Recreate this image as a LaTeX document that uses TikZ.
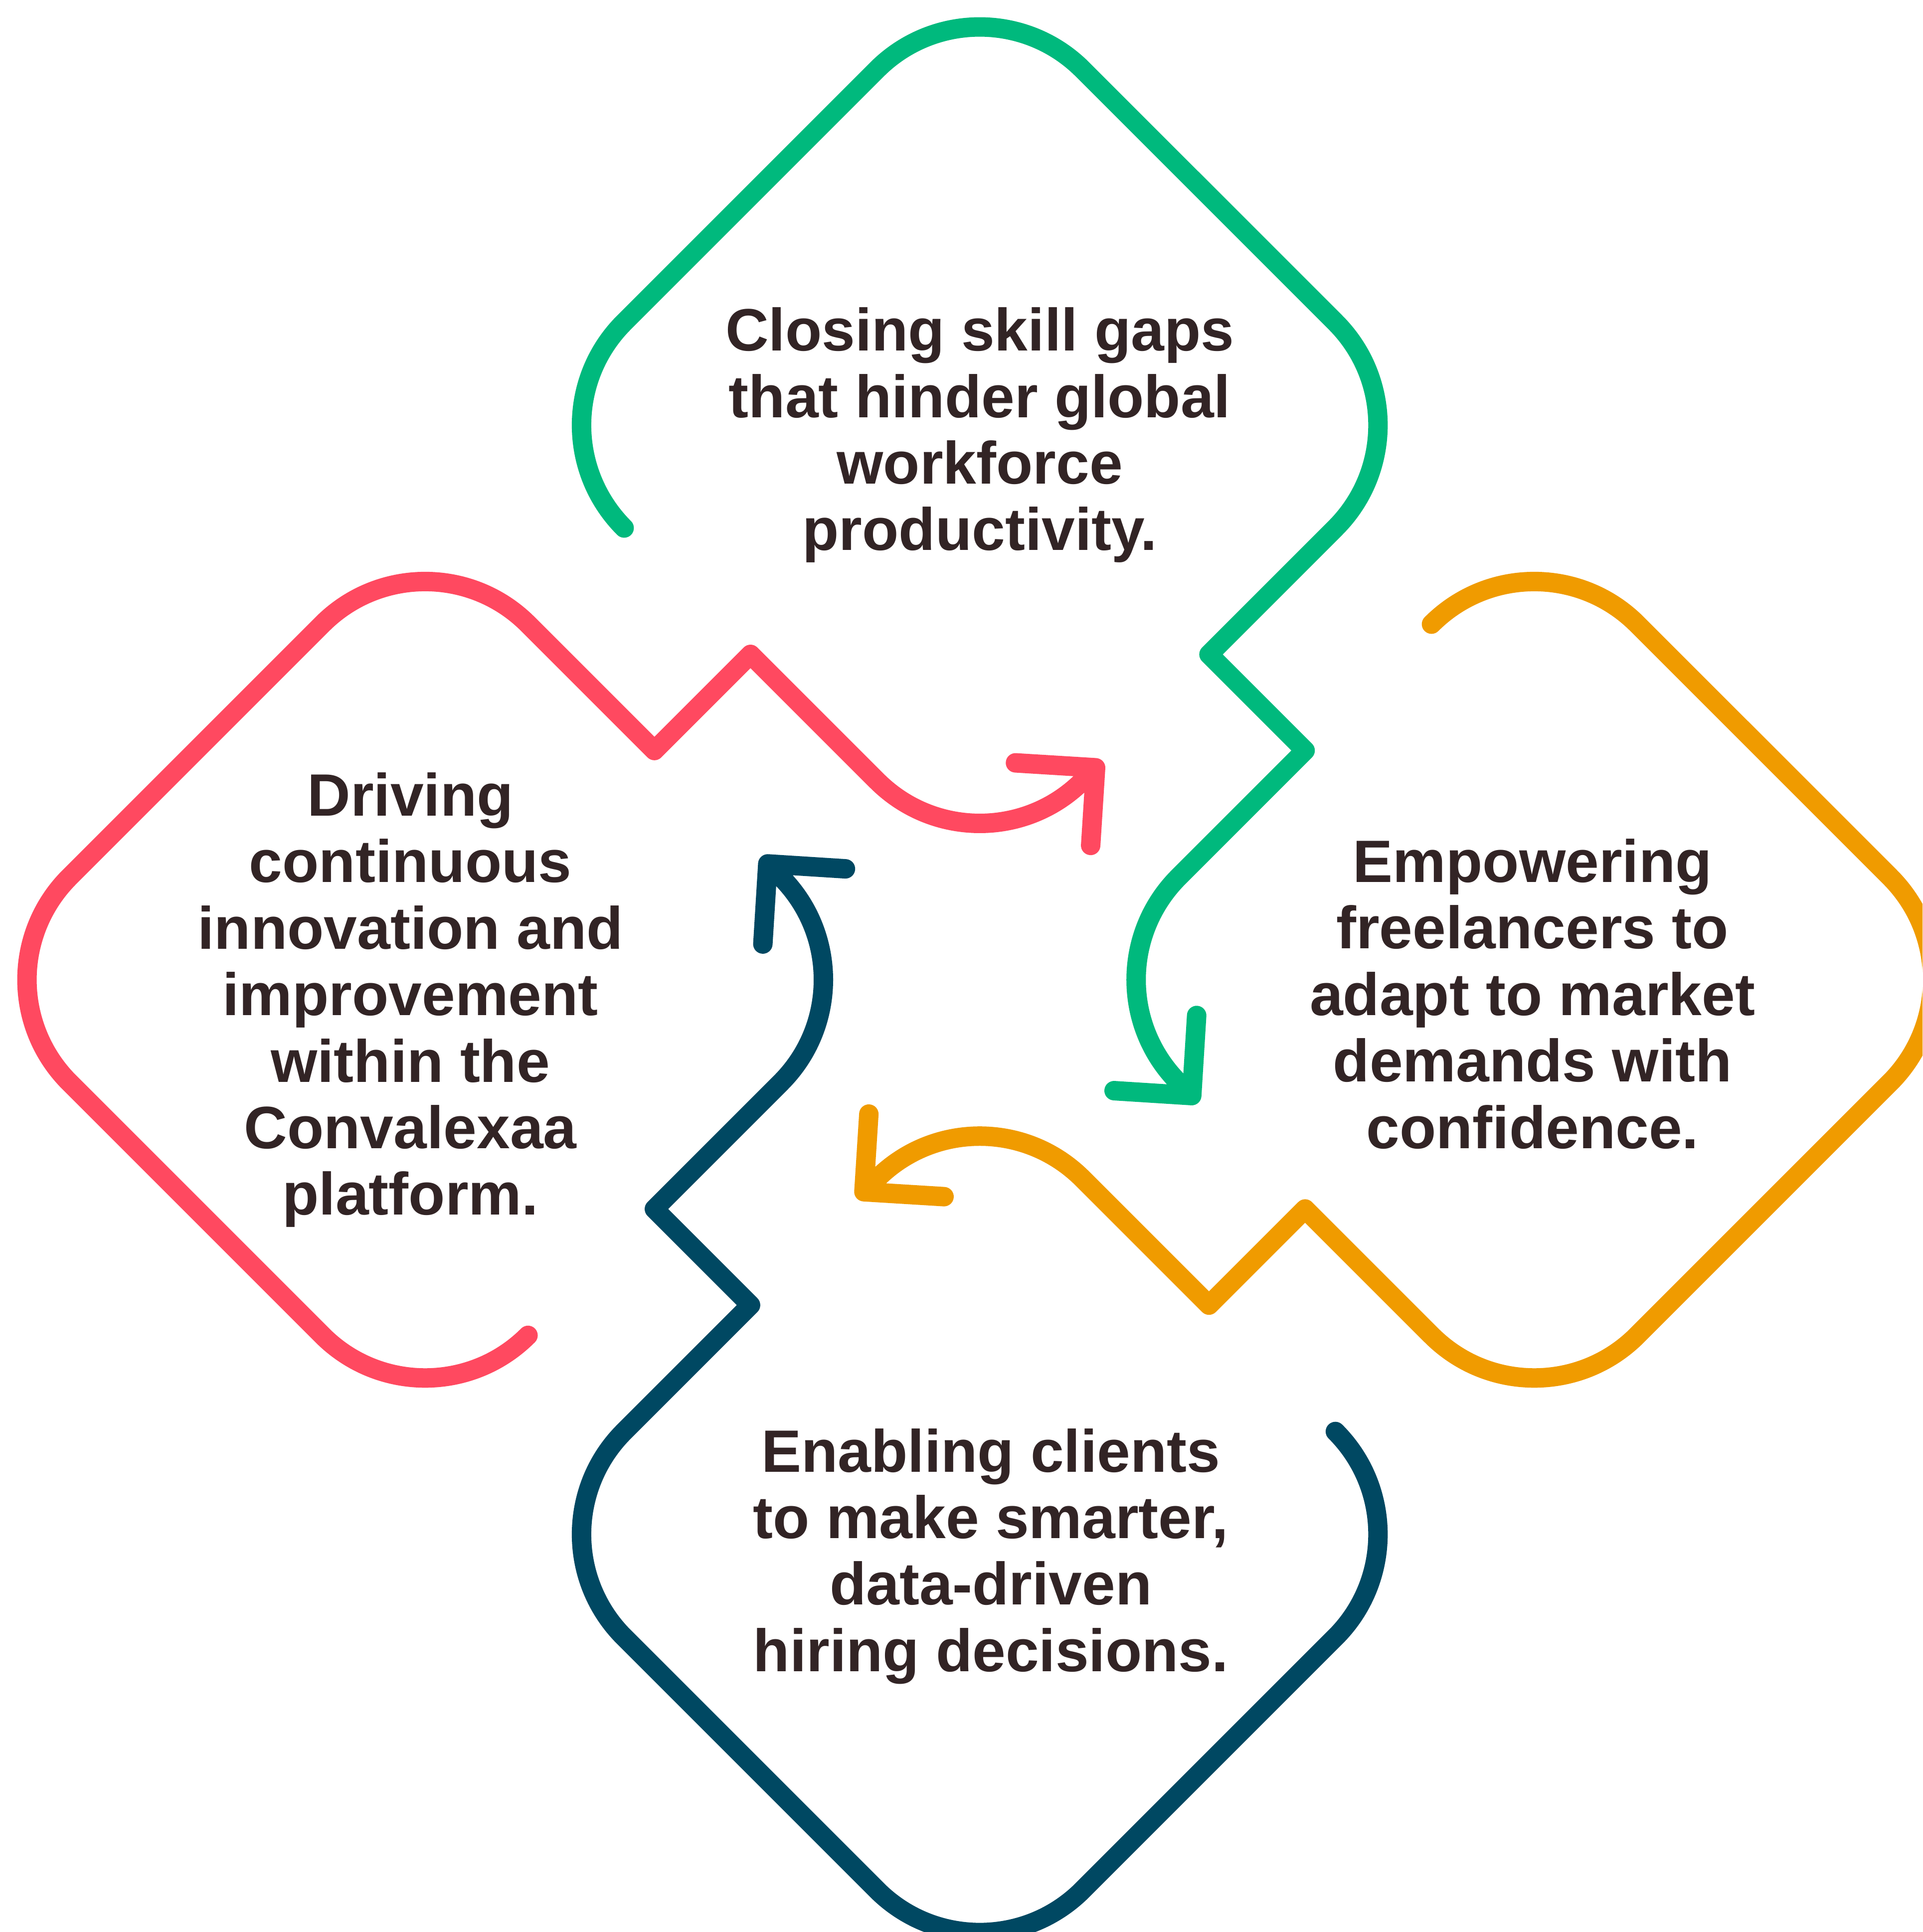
\documentclass[tikz,border=0pt]{standalone}
\usepackage{fontspec}
\setmainfont{Liberation Sans}
\definecolor{cgreen}{HTML}{00B97D}
\definecolor{corange}{HTML}{F09B00}
\definecolor{cpink}{HTML}{FF4960}
\definecolor{cnavy}{HTML}{004862}
\definecolor{textcol}{HTML}{322425}
\newcommand{\flowpiece}{%
  (506.44,428.44) arc[start angle=135,end angle=225,radius=118]
  -- (711.56,56.44) arc[start angle=225,end angle=315,radius=118]
  -- (1083.56,261.56) arc[start angle=315,end angle=405,radius=118]
  -- (981,531) -- (1059,609) -- (956.44,711.56)
  arc[start angle=225,end angle=135,radius=118]
  -- (967,889)
  (904,885) -- (967,889) -- (971,824)}
\begin{document}
\begin{tikzpicture}[x=0.01cm,y=-0.01cm,
  band/.style={line width=4.49pt, line cap=round, line join=round},
  txt/.style={anchor=base, inner sep=0pt, text=textcol,
    font=\bfseries\fontsize{13.8pt}{15.35pt}\selectfont}]
\fill[white] (0,0) rectangle (1560,1567.68);
\path[use as bounding box, clip] (0,0) rectangle (1560,1567.68);
\draw[band, cgreen] \flowpiece;
\begin{scope}[rotate around={-90:(795,795)}]
  \draw[band, corange] \flowpiece;
\end{scope}
\begin{scope}[rotate around={180:(795,795)}]
  \draw[band, cnavy] \flowpiece;
\end{scope}
\begin{scope}[rotate around={90:(795,795)}]
  \draw[band, cpink] \flowpiece;
\end{scope}
\node[txt] (tgreen) at (795,284.7) {\begin{tabular}[t]{@{}c@{}}Closing skill gaps\\that hinder global\\workforce\\productivity.\end{tabular}};
\node[txt] (torange) at (1243.5,715.8) {\begin{tabular}[t]{@{}c@{}}Empowering\\freelancers to\\adapt to market\\demands with\\confidence.\end{tabular}};
\node[txt] (tnavy) at (804,1194.3) {\begin{tabular}[t]{@{}c@{}}Enabling clients\\to make smarter,\\data-driven\\hiring decisions.\end{tabular}};
\node[txt] (tpink) at (333,662) {\begin{tabular}[t]{@{}c@{}}Driving\\continuous\\innovation and\\improvement\\within the\\Convalexaa\\platform.\end{tabular}};
\end{tikzpicture}
\end{document}
